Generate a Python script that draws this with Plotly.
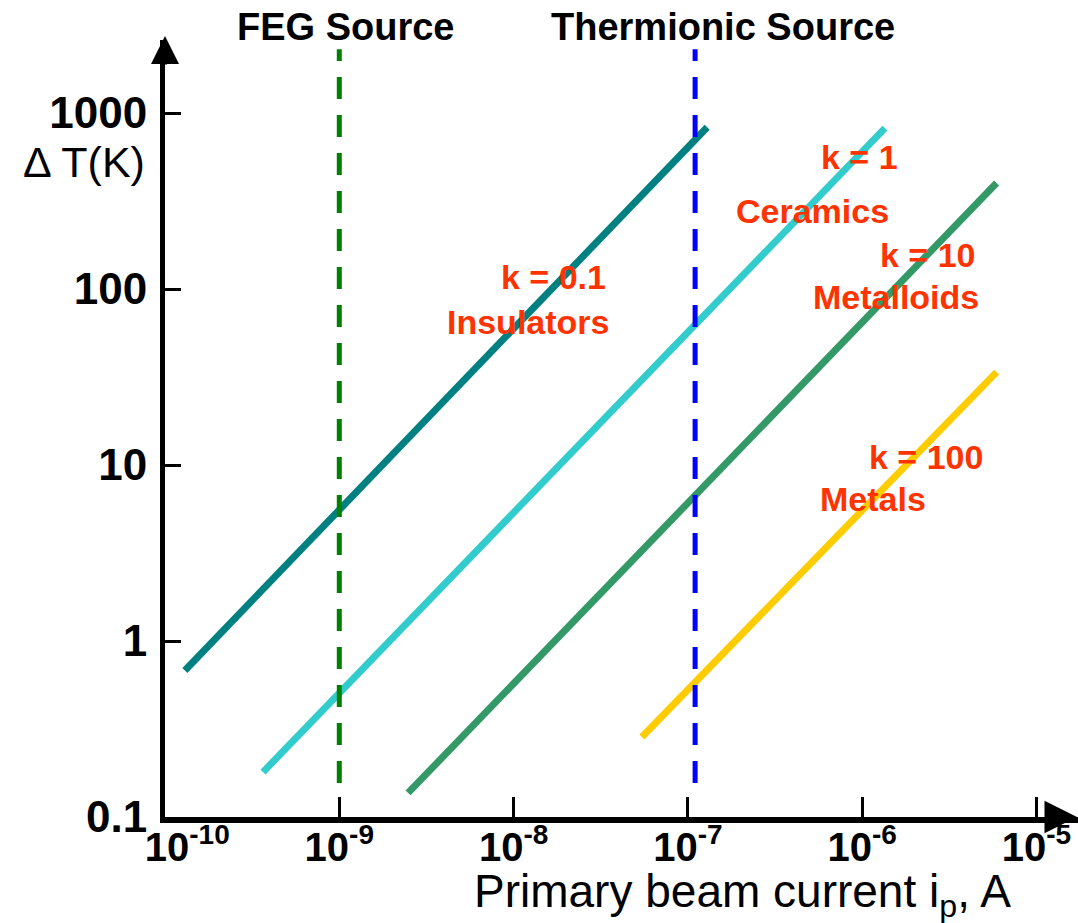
import plotly.graph_objects as go

# ---- data ----
series_names = ["k = 0.1 Insulators", "k = 1 Ceramics", "k = 10 Metalloids", "k = 100 Metals"]
current_k01 = [1.30e-10, 1.29e-7]
dT_k01 = [0.68, 830]
current_k1 = [3.65e-10, 1.35e-6]
dT_k1 = [0.18, 820]
current_k10 = [2.48e-9, 5.9e-6]
dT_k10 = [0.137, 400]
current_k100 = [5.45e-8, 5.9e-6]
dT_k100 = [0.285, 33.7]

feg_current = [1e-9, 1e-9]
thermionic_current = [1.10e-7, 1.10e-7]
source_dT_span = [0.156, 2300]

x_tickvals = [1e-10, 1e-9, 1e-8, 1e-7, 1e-6, 1e-5]
x_ticktext = ["&nbsp;&nbsp;&nbsp;&nbsp;<b>10<sup>-10</sup></b>", "<b>10<sup>-9</sup></b>", "<b>10<sup>-8</sup></b>",
              "<b>10<sup>-7</sup></b>", "<b>10<sup>-6</sup></b>", "<b>10<sup>-5</sup></b>"]
y_tickvals = [0.1, 1, 10, 100, 1000]
y_ticktext = ["<b>0.1</b>", "<b>1</b>", "<b>10</b>", "<b>100</b>", "<b>1000</b>"]

# ---- figure ----
W, H = 1078, 923
L, R, T, B = 165, 0, 40, 106
PW, PH = W - L - R, H - T - B

def px(xp):
    return (xp - L) / PW

def py(yp):
    return (H - B - yp) / PH

fig = go.Figure()

series = [
    (current_k01, dT_k01, "#008080"),
    (current_k1, dT_k1, "#33CCCC"),
    (current_k10, dT_k10, "#339966"),
    (current_k100, dT_k100, "#FFCC00"),
]
for (xs, ys, col), name in zip(series, series_names):
    fig.add_trace(go.Scatter(x=xs, y=ys, mode="lines", name=name,
                             line=dict(color=col, width=7)))

fig.add_trace(go.Scatter(x=feg_current, y=source_dT_span, mode="lines", name="FEG Source",
                         line=dict(color="#008000", width=5, dash="22px,16px")))
fig.add_trace(go.Scatter(x=thermionic_current, y=source_dT_span, mode="lines", name="Thermionic Source",
                         line=dict(color="#0000FF", width=5, dash="22px,16px")))

font_main = "Liberation Sans, Arial, sans-serif"
fig.update_layout(
    width=W, height=H,
    margin=dict(l=L, r=R, t=T, b=B, pad=0),
    paper_bgcolor="white", plot_bgcolor="white",
    showlegend=False,
    font=dict(family=font_main, color="black"),
    xaxis=dict(type="log", range=[-10, -10 + PW / 174.3],
               showgrid=False, zeroline=False,
               showline=True, linecolor="black", linewidth=6,
               ticks="inside", ticklen=20, tickwidth=3, tickcolor="black",
               tickvals=x_tickvals, ticktext=x_ticktext,
               ticklabelstandoff=-10,
               tickfont=dict(size=40, family=font_main, color="black")),
    yaxis=dict(type="log", range=[-1, -1 + PH / 176.0],
               showgrid=False, zeroline=False,
               showline=True, linecolor="black", linewidth=5,
               ticks="inside", ticklen=16, tickwidth=3, tickcolor="black",
               tickvals=y_tickvals, ticktext=y_ticktext,
               ticklabelstandoff=4,
               tickfont=dict(size=44, family=font_main, color="black")),
)

ann = []
orange = "#FF3300"
labels = [
    ("k = 0.1", 553, 277), ("Insulators", 528, 322),
    ("k = 1", 859, 157), ("Ceramics", 812, 211),
    ("k = 10", 927, 255), ("Metalloids", 896, 297),
    ("k = 100", 926, 457), ("Metals", 873, 499),
]
for txt, xx, yy in labels:
    ann.append(dict(text="<b>%s</b>" % txt, x=px(xx), y=py(yy), xref="paper", yref="paper",
                    showarrow=False, xanchor="center", yanchor="middle",
                    font=dict(size=34, color=orange, family=font_main)))

ann.append(dict(text="<b>FEG Source</b>", x=px(346), y=py(27), xref="paper", yref="paper",
                showarrow=False, xanchor="center", yanchor="middle",
                font=dict(size=38, color="black", family=font_main)))
ann.append(dict(text="<b>Thermionic Source</b>", x=px(723), y=py(27), xref="paper", yref="paper",
                showarrow=False, xanchor="center", yanchor="middle",
                font=dict(size=38, color="black", family=font_main)))
ann.append(dict(text="\u0394 T(K)", x=px(84), y=py(162), xref="paper", yref="paper",
                showarrow=False, xanchor="center", yanchor="middle",
                font=dict(size=43, color="black", family=font_main)))
ann.append(dict(text="Primary beam current i<sub>p</sub>, A", x=px(742), y=py(894), xref="paper", yref="paper",
                showarrow=False, xanchor="center", yanchor="middle",
                font=dict(size=46, color="black", family=font_main)))

# axis arrowheads
ann.append(dict(x=px(165), y=py(36), ax=0, ay=30, xref="paper", yref="paper",
                showarrow=True, arrowhead=2, arrowsize=1.4, arrowwidth=4, arrowcolor="black", text=""))
ann.append(dict(x=px(1077), y=py(817), ax=-30, ay=0, xref="paper", yref="paper",
                showarrow=True, arrowhead=2, arrowsize=1.3, arrowwidth=5, arrowcolor="black", text=""))

fig.update_layout(annotations=ann)
fig.write_html("out.html")
